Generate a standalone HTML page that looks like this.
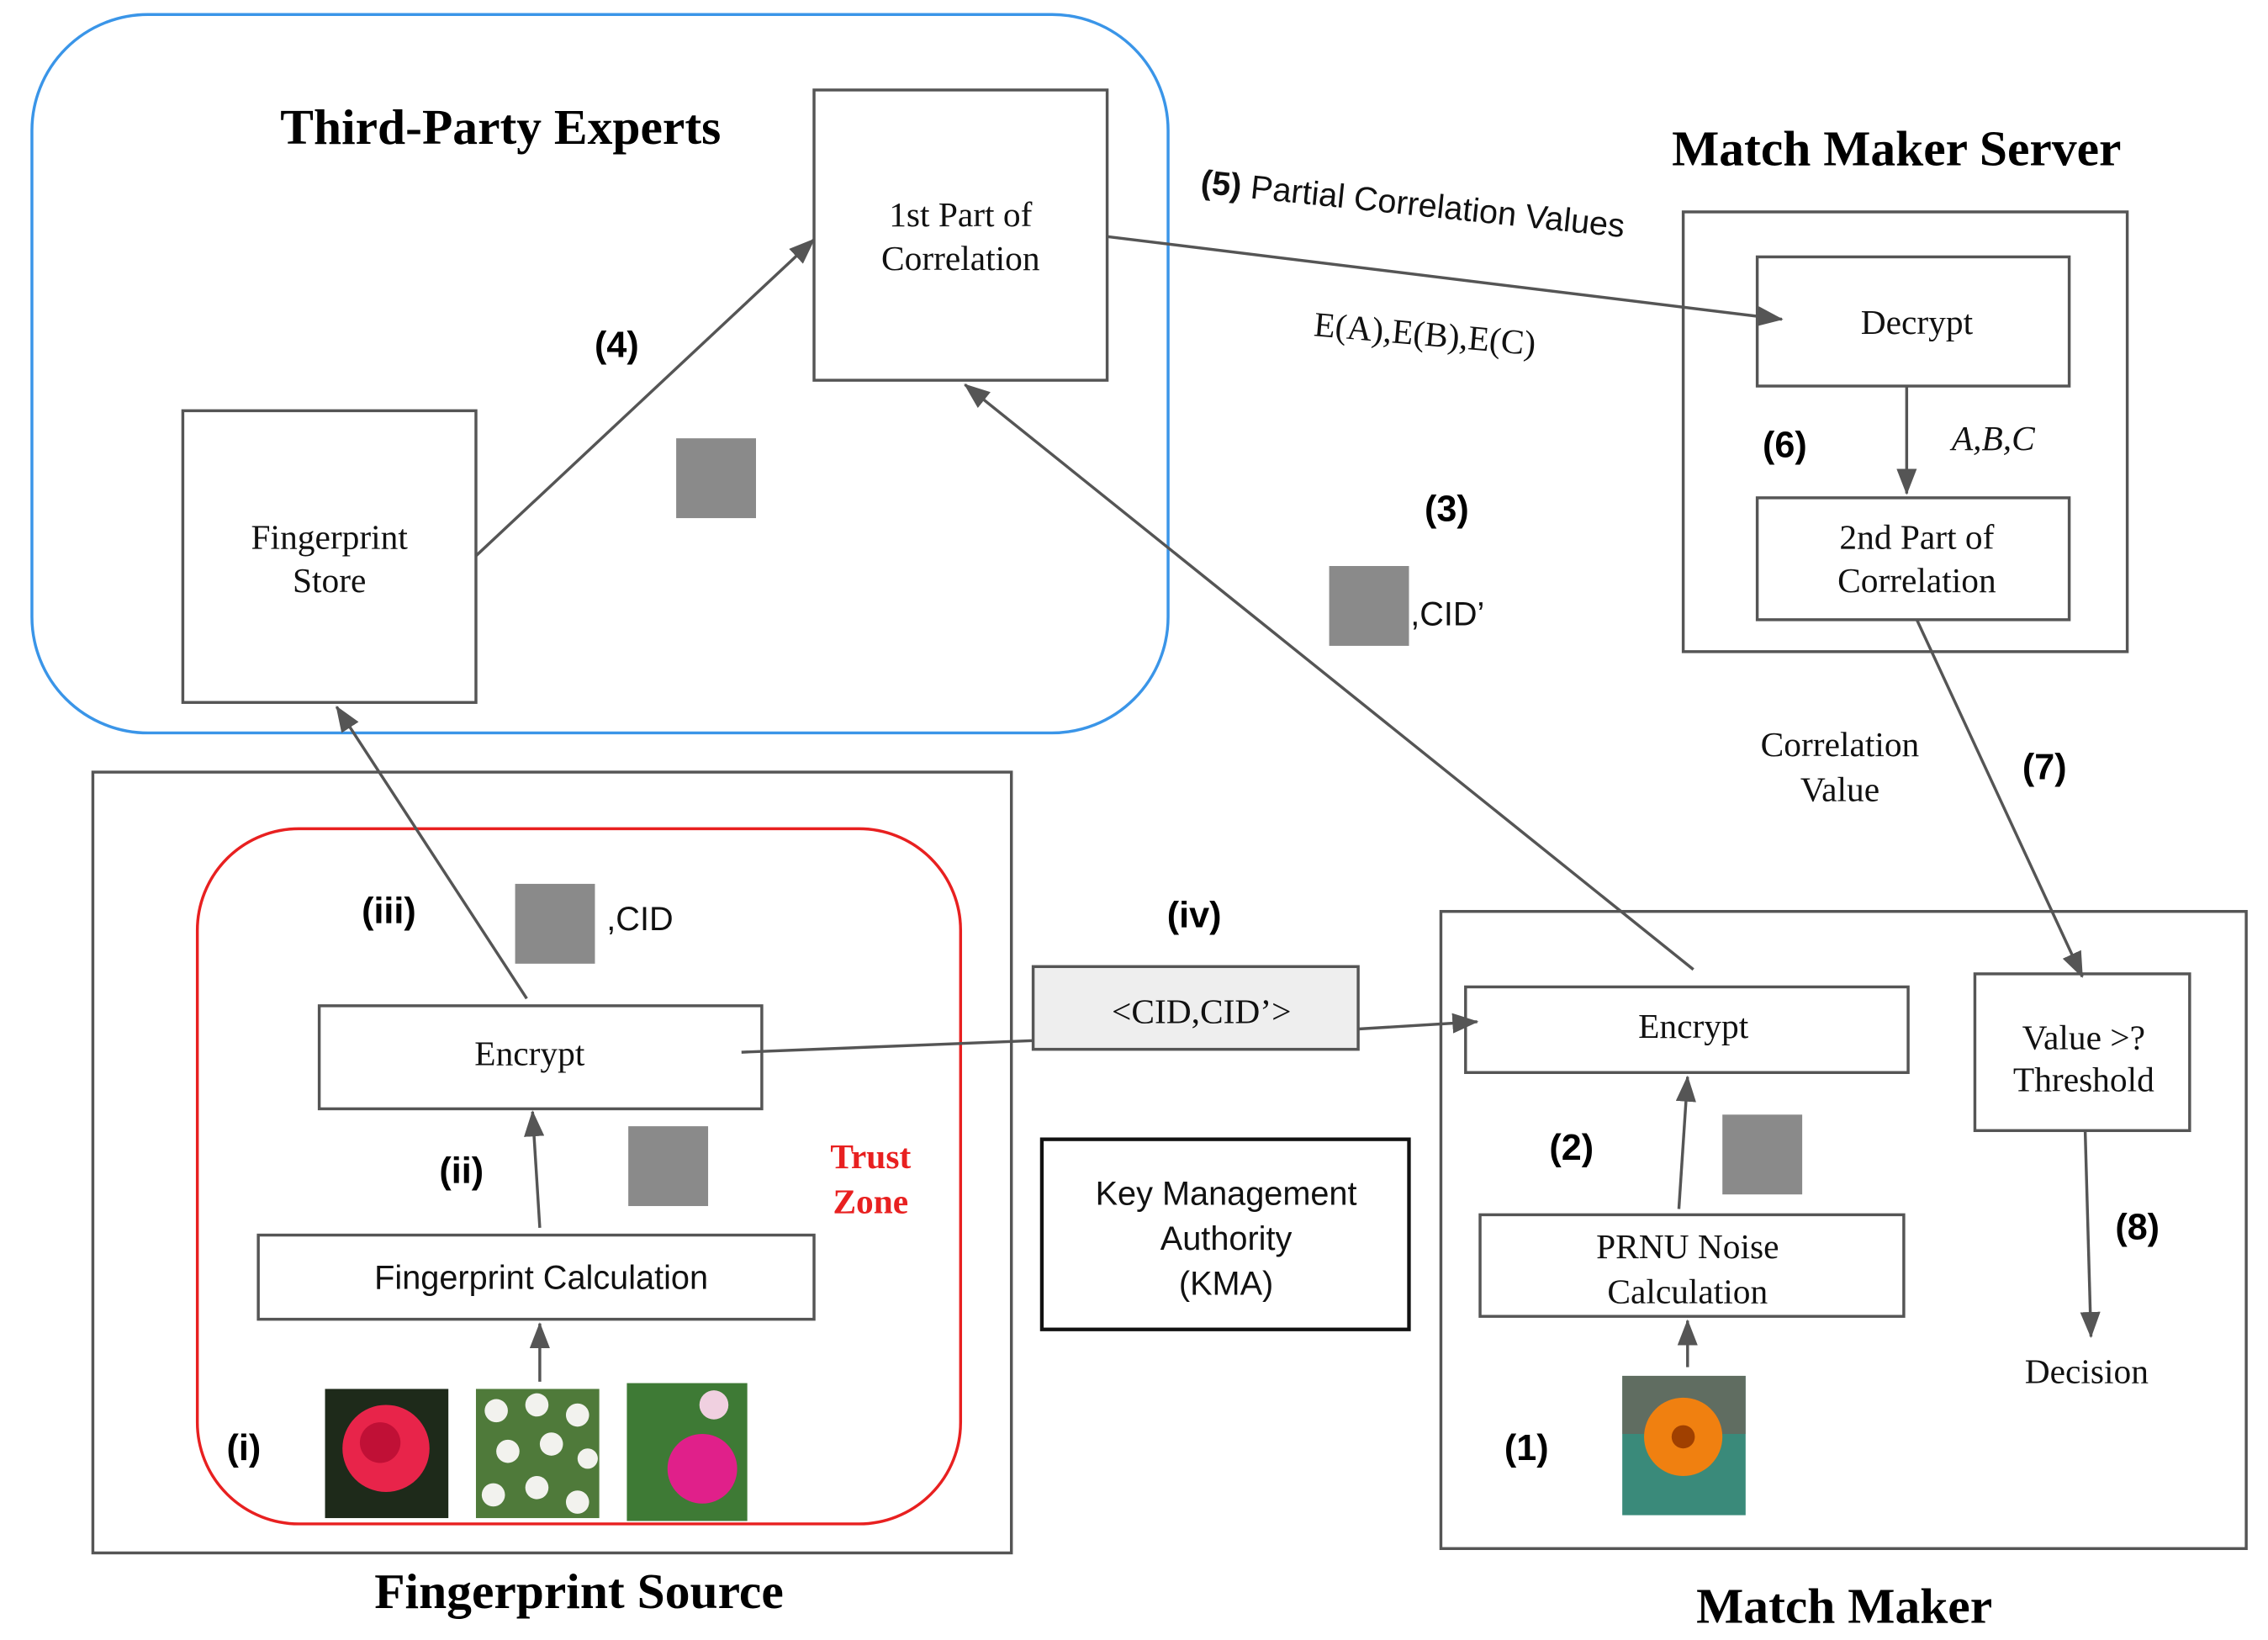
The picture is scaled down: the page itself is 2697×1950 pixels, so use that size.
<!DOCTYPE html>
<html><head><meta charset="utf-8"><style>
html,body{margin:0;padding:0;background:#fff;}
svg{display:block;}
.s{font-family:"Liberation Serif",serif;font-size:24px;fill:#111;}
.b{font-family:"Liberation Serif",serif;font-size:34.5px;font-weight:bold;fill:#000;}
.l{font-family:"Liberation Sans",sans-serif;font-size:25px;font-weight:bold;fill:#000;}
.n{font-family:"Liberation Sans",sans-serif;font-size:23px;fill:#111;}
</style></head><body>
<svg width="2697" height="1950" viewBox="0 0 1563 1130" preserveAspectRatio="none" xmlns="http://www.w3.org/2000/svg">
<defs>
<marker id="A" markerWidth="18" markerHeight="14" refX="17" refY="7" orient="auto" markerUnits="userSpaceOnUse"><path d="M0,0 L18,7 L0,14 z" fill="#555"/></marker></defs>
<g fill="none" stroke="#555" stroke-width="2">
<rect x="22" y="10" width="783" height="495" rx="80" stroke="#3a95e8"/>
<rect x="561" y="62" width="202" height="200"/>
<rect x="126" y="283" width="202" height="201"/>
<rect x="1160" y="146" width="306" height="303"/>
<rect x="1211" y="177" width="215" height="89"/>
<rect x="1211" y="343" width="215" height="84"/>
<rect x="64" y="532" width="633" height="538"/>
<rect x="136" y="571" width="526" height="479" rx="70" stroke="#e82020"/>
<rect x="220" y="693" width="305" height="71"/>
<rect x="178" y="851" width="383" height="58"/>
<rect x="712" y="666" width="224" height="57" fill="#eee"/>
<rect x="718" y="785" width="253" height="131" stroke="#111" stroke-width="2.5"/>
<rect x="993" y="628" width="555" height="439"/>
<rect x="1010" y="680" width="305" height="59"/>
<rect x="1020" y="837" width="292" height="70"/>
<rect x="1361" y="671" width="148" height="108"/>
</g>
<g stroke="#555" stroke-width="2" fill="none">
<line x1="328" y1="383" x2="561" y2="165" marker-end="url(#A)"/>
<line x1="763" y1="163" x2="1228" y2="220" marker-end="url(#A)"/>
<line x1="1314" y1="266" x2="1314" y2="340" marker-end="url(#A)"/>
<line x1="1167" y1="668" x2="665" y2="265" marker-end="url(#A)"/>
<line x1="1321" y1="427" x2="1435" y2="673" marker-end="url(#A)"/>
<line x1="363" y1="688" x2="232" y2="487" marker-end="url(#A)"/>
<line x1="372" y1="846" x2="367" y2="766" marker-end="url(#A)"/>
<line x1="372" y1="952" x2="372" y2="912" marker-end="url(#A)"/>
<line x1="511" y1="725" x2="712" y2="717"/>
<line x1="936" y1="709" x2="1018" y2="704" marker-end="url(#A)"/>
<line x1="1157" y1="833" x2="1163" y2="742" marker-end="url(#A)"/>
<line x1="1163" y1="942" x2="1163" y2="910" marker-end="url(#A)"/>
<line x1="1437" y1="779" x2="1441" y2="921" marker-end="url(#A)"/>
</g>
<g fill="#8a8a8a">
<rect x="466" y="302" width="55" height="55"/>
<rect x="916" y="390" width="55" height="55"/>
<rect x="355" y="609" width="55" height="55"/>
<rect x="433" y="776" width="55" height="55"/>
<rect x="1187" y="768" width="55" height="55"/>
</g>
<rect x="224" y="957" width="85" height="89" fill="#1e2a1a"/><circle cx="266" cy="998" r="30" fill="#e8244a"/><circle cx="262" cy="994" r="14" fill="#c01036"/>
<rect x="328" y="957" width="85" height="89" fill="#4f7a3a"/>
<g fill="#f2f2ee"><circle cx="342" cy="972" r="8"/><circle cx="370" cy="968" r="8"/><circle cx="398" cy="975" r="8"/><circle cx="350" cy="1000" r="8"/><circle cx="380" cy="995" r="8"/><circle cx="405" cy="1005" r="7"/><circle cx="340" cy="1030" r="8"/><circle cx="370" cy="1025" r="8"/><circle cx="398" cy="1035" r="8"/></g>
<rect x="432" y="953" width="83" height="95" fill="#3e7a35"/><circle cx="484" cy="1012" r="24" fill="#e0208a"/><circle cx="492" cy="968" r="10" fill="#f0d0e0"/>
<rect x="1118" y="948" width="85" height="96" fill="#3a8a7a"/><rect x="1118" y="948" width="85" height="40" fill="#7a5a50" opacity="0.6"/><circle cx="1160" cy="990" r="27" fill="#f08010"/><circle cx="1160" cy="990" r="8" fill="#a04000"/>
<g text-anchor="middle">
<text class="b" x="345" y="99">Third-Party Experts</text>
<text class="b" x="1307" y="114">Match Maker Server</text>
<text class="b" x="399" y="1108">Fingerprint Source</text>
<text class="b" x="1271" y="1118">Match Maker</text>
<text class="s" x="662" y="156">1st Part of</text>
<text class="s" x="662" y="186">Correlation</text>
<text class="s" x="227" y="378">Fingerprint</text>
<text class="s" x="227" y="408">Store</text>
<text class="s" x="1321" y="230">Decrypt</text>
<text class="s" x="1321" y="378">2nd Part of</text>
<text class="s" x="1321" y="408">Correlation</text>
<text class="s" x="1268" y="521">Correlation</text>
<text class="s" x="1268" y="552">Value</text>
<text class="s" x="365" y="734">Encrypt</text>
<text class="n" x="373" y="888" font-size="21">Fingerprint Calculation</text>
<text class="s" x="828" y="705">&lt;CID,CID’&gt;</text>
<text class="n" x="845" y="830">Key Management</text>
<text class="n" x="845" y="861">Authority</text>
<text class="n" x="845" y="892">(KMA)</text>
<text class="s" x="1167" y="715">Encrypt</text>
<text class="s" x="1163" y="867">PRNU Noise</text>
<text class="s" x="1163" y="898">Calculation</text>
<text class="s" x="1436" y="723">Value &gt;?</text>
<text class="s" x="1436" y="752" font-size="22">Threshold</text>
<text class="s" x="1438" y="953">Decision</text>
<text class="s" x="600" y="805" style="fill:#e82020;font-weight:bold">Trust</text>
<text class="s" x="600" y="836" style="fill:#e82020;font-weight:bold">Zone</text>
<text class="l" x="425" y="246">(4)</text>
<text class="l" x="997" y="359">(3)</text>
<text class="l" x="1230" y="315">(6)</text>
<text class="l" x="1409" y="537">(7)</text>
<text class="l" x="268" y="636">(iii)</text>
<text class="l" x="823" y="639">(iv)</text>
<text class="l" x="318" y="815">(ii)</text>
<text class="l" x="168" y="1006">(i)</text>
<text class="l" x="1083" y="799">(2)</text>
<text class="l" x="1052" y="1006">(1)</text>
<text class="l" x="1473" y="854">(8)</text>
</g>
<text class="s" x="1345" y="310" style="font-style:italic">A,B,C</text>
<text class="n" x="972" y="431" font-size="27">,CID’</text>
<text class="n" x="418" y="641" font-size="27">,CID</text>
<g transform="rotate(6 990 150)"><text x="826" y="150" class="n" font-size="25"><tspan font-weight="bold">(5)</tspan> Partial Correlation Values</text></g>
<g transform="rotate(5 982 230)"><text class="s" x="982" y="238" text-anchor="middle">E(A),E(B),E(C)</text></g>
</svg>
</body></html>
